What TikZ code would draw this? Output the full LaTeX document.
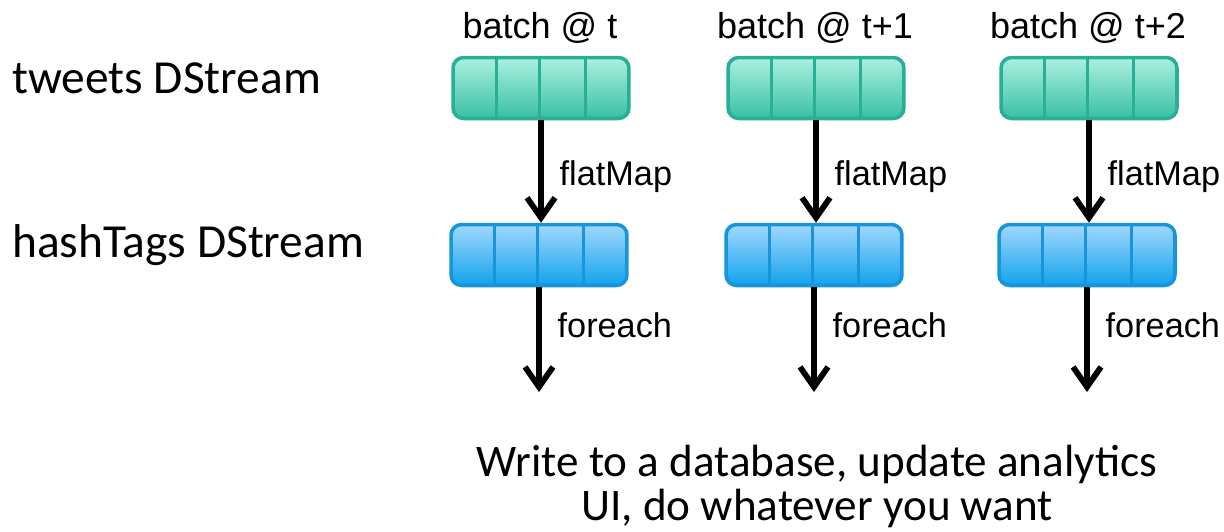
\documentclass[tikz,border=0pt]{standalone}
\usepackage{fontspec}
\setmainfont{Liberation Sans}
\newfontfamily\calfont{Carlito}
\usetikzlibrary{arrows.meta,positioning,calc}

\definecolor{tealtop}{HTML}{ABF0DF}
\definecolor{tealbot}{HTML}{38C0A4}
\definecolor{tealedge}{HTML}{2AAE94}
\definecolor{bluetop}{HTML}{A0D8FC}
\definecolor{bluebot}{HTML}{12A2EE}
\definecolor{blueedge}{HTML}{1695DA}

\tikzset{
  batch/.style={rounded corners=6pt, minimum width=3.52cm, minimum height=1.22cm, line width=2pt},
  tweetbox/.style={batch, draw=tealedge, top color=tealtop, bottom color=tealbot},
  tagbox/.style={batch, draw=blueedge, top color=bluetop, bottom color=bluebot},
  flow/.style={line width=3.3pt, -{Straight Barb[length=0.4cm, width=0.56cm, line width=3.3pt]}},
  oplabel/.style={right, inner sep=2pt, xshift=7pt, font=\fontsize{19.5pt}{22pt}\selectfont},
  rowlabel/.style={anchor=west, inner sep=0pt, font=\calfont\fontsize{27pt}{32pt}\selectfont},
}

\begin{document}
\begin{tikzpicture}[x=0.02cm, y=-0.02cm]
\useasboundingbox (0,0) rectangle (1224,531);

% row labels
\node[rowlabel] (tweetsrow) at (12,78) {tweets DStream};
\node[rowlabel] (tagsrow) at (12,245) {hashTags DStream};

% batches
\node[tweetbox] (t0) at (541,88) {};
\node[tweetbox] (t1) at (816,88) {};
\node[tweetbox] (t2) at (1089,88) {};
\node[tagbox] (h0) at (539,255) {};
\node[tagbox] (h1) at (814,255) {};
\node[tagbox] (h2) at (1087,255) {};

\foreach \b in {t0,t1,t2}
  \foreach \f in {0.25,0.49,0.75}
    \draw[tealedge, line width=1.7pt] ($(\b.north west)!\f!(\b.north east)$) -- ($(\b.south west)!\f!(\b.south east)$);
\foreach \b in {h0,h1,h2}
  \foreach \f in {0.25,0.49,0.75}
    \draw[blueedge, line width=1.7pt] ($(\b.north west)!\f!(\b.north east)$) -- ($(\b.south west)!\f!(\b.south east)$);

% times
\node[font=\fontsize{20.5pt}{24pt}\selectfont] (time0) at (540,28) {batch @ t};
\node[font=\fontsize{20.5pt}{24pt}\selectfont] (time1) at (815,28) {batch @ t+1};
\node[font=\fontsize{20.5pt}{24pt}\selectfont] (time2) at (1088,28) {batch @ t+2};

% ends of the output arrows
\coordinate (out0) at (540,392);
\coordinate (out1) at (815,392);
\coordinate (out2) at (1087,392);

\foreach \i in {0,1,2}{
  \draw[flow] (t\i.south) -- (t\i.south |- h\i.north) node[oplabel, pos=0.55] {flatMap};
  \draw[flow] (h\i.south) -- (h\i.south |- out\i) node[oplabel, pos=0.36] {foreach};
}

\node[align=center, font=\calfont\fontsize{25.7pt}{44\dimexpr0.02cm\relax}\selectfont] (sink) at (817,486)
  {Write to a database, update analytics\\UI, do whatever you want};
\end{tikzpicture}
\end{document}
